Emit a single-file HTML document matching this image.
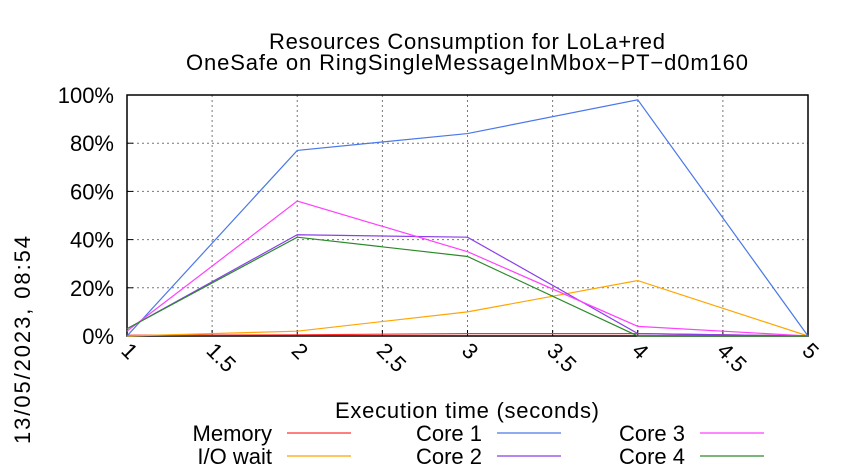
<!DOCTYPE html>
<html><head><meta charset="utf-8"><style>
body{margin:0;background:#fff}
svg{display:block;font-family:"Liberation Sans",sans-serif}
</style></head><body>
<svg id="chart" width="850" height="475" viewBox="0 0 850 475">
<text x="467" y="49" font-size="22" text-anchor="middle" textLength="396">Resources Consumption for LoLa+red</text>
<text x="467" y="70" font-size="22" text-anchor="middle" textLength="562">OneSafe on RingSingleMessageInMbox−PT−d0m160</text>
<text transform="translate(30,340) rotate(-90)" font-size="22" text-anchor="middle" textLength="208">13/05/2023, 08:54</text>
<text x="467" y="418" font-size="22" text-anchor="middle" textLength="264">Execution time (seconds)</text>
<g id="grid"></g><g id="axes"></g><g id="series"></g><g id="legend"></g>
</svg>
<script>
const xTicks=[1,1.5,2,2.5,3,3.5,4,4.5,5];
const xTickLabels=["1","1.5","2","2.5","3","3.5","4","4.5","5"];
const yTicks=[0,20,40,60,80,100];
const yTickLabels=["0%","20%","40%","60%","80%","100%"];
const times=[1,2,3,4,5];
const seriesNames=["Memory","I/O wait","Core 1","Core 2","Core 3","Core 4"];
const seriesColors=["#ff3030","#ffa500","#4a78e8","#8a3fe8","#ff40ff","#2a8a2a"];
const memory=[0.3,0.5,1,1,0];
const ioWait=[0,2,10,23,0];
const core1=[0,77,84,98,0];
const core2=[3,42,41,1,0];
const core3=[2,56,35,4,0];
const core4=[3,41,33,0,0];
const allSeries=[memory,ioWait,core1,core2,core3,core4];
const X0=127,X1=808,Y0=336,Y1=95;
const sx=v=>X0+(v-1)/4*(X1-X0);
const sy=v=>Y0-v/100*(Y0-Y1);
const NS="http://www.w3.org/2000/svg";
function mk(tag,attrs,parent){const e=document.createElementNS(NS,tag);for(const k in attrs)e.setAttribute(k,attrs[k]);parent.appendChild(e);return e;}
const grid=document.getElementById('grid'),axes=document.getElementById('axes'),ser=document.getElementById('series'),leg=document.getElementById('legend');
xTicks.forEach((t,i)=>{
 if(i>0&&i<xTicks.length-1){const g=mk('line',{x1:sx(t),x2:sx(t),y1:Y1,y2:Y0,stroke:'#777','stroke-dasharray':'2,3','stroke-width':1},grid);
 
 }
 const tk=mk('line',{x1:sx(t),x2:sx(t),y1:Y0,y2:Y0-6,stroke:'#000'},axes);
 
 
 const tx=mk('text',{transform:`translate(${sx(t)-7},${Y0+16}) rotate(45)`,'font-size':22},axes);
 tx.textContent=xTickLabels[i];
 
 
});
yTicks.forEach((t,i)=>{
 if(i>0&&i<yTicks.length-1){const g=mk('line',{x1:X0,x2:X1,y1:sy(t),y2:sy(t),stroke:'#777','stroke-dasharray':'2,3','stroke-width':1},grid);
 
 }
 const tx=mk('text',{x:X0-13,y:sy(t)+8,'font-size':22,'text-anchor':'end'},axes);
 tx.textContent=yTickLabels[i];
 
 
 const tk=mk('line',{x1:X0,x2:X0+6,y1:sy(t),y2:sy(t),stroke:'#000'},axes);
 
 
});
const frame=mk('rect',{x:X0,y:Y1,width:X1-X0,height:Y0-Y1,fill:'none',stroke:'#000','stroke-width':1.5},axes);


allSeries.forEach((d,i)=>{
 const p=mk('polyline',{points:d.map((v,j)=>sx(times[j])+','+sy(v)).join(' '),fill:'none',stroke:seriesColors[i],'stroke-width':1.2},ser);
 
 
});
const colX=[272,482,685];
seriesNames.forEach((n,i)=>{
 const order=[0,2,4,1,3,5];
 const k=order.indexOf(i);const c=k%3,r=Math.floor(k/3);
 const y=441+r*23;
 const t=mk('text',{x:colX[c],y:y,'font-size':22,'text-anchor':'end'},leg);
 t.textContent=n;
 
 
 const l=mk('line',{x1:colX[c]+15,x2:colX[c]+79,y1:y-8,y2:y-8,stroke:seriesColors[i],'stroke-width':1.2},leg);
 
 
});
</script>
</body></html>
